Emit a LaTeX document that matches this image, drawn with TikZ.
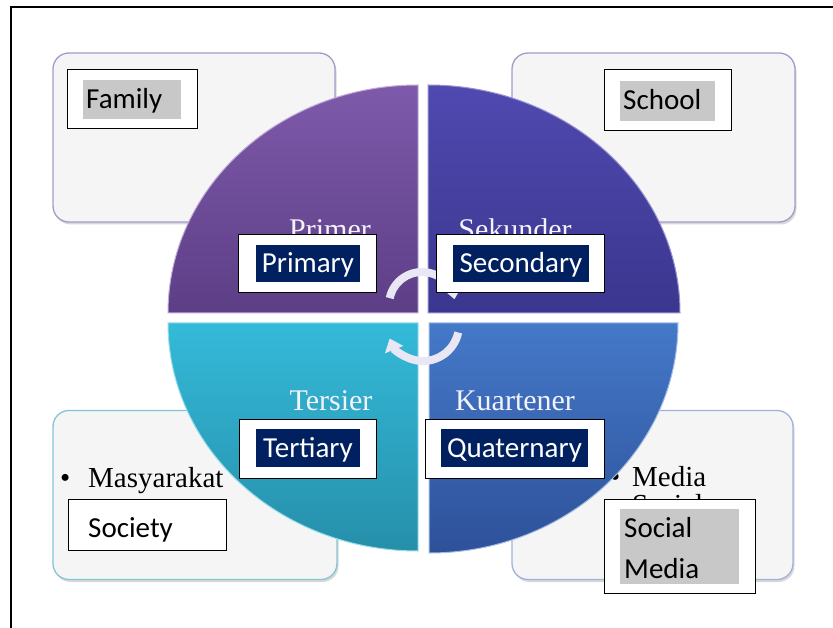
\documentclass[tikz,border=0pt]{standalone}
\usepackage{fontspec}
\setmainfont{Liberation Serif}
\newfontfamily\calfont{Carlito}
\usetikzlibrary{shadows,arrows.meta}
\definecolor{boxfill}{HTML}{F5F5F6}
\definecolor{tlline}{HTML}{A29CCB}
\definecolor{blline}{HTML}{86C4D3}
\definecolor{brline}{HTML}{9FB2DE}
\definecolor{navyc}{HTML}{002060}
\definecolor{grayc}{HTML}{C8C8C8}
\definecolor{tltop}{HTML}{7F5AAB}
\definecolor{tlbot}{HTML}{5C3E86}
\definecolor{trtop}{HTML}{5049B0}
\definecolor{trbot}{HTML}{3B368E}
\definecolor{bltop}{HTML}{34BAD9}
\definecolor{blbot}{HTML}{268FAA}
\definecolor{brtop}{HTML}{4479C9}
\definecolor{brbot}{HTML}{2E5199}
\definecolor{arcc}{HTML}{E9E7F3}
\definecolor{quadtext}{HTML}{F4F2FA}
\tikzset{
  x=1pt, y=-1pt,
  bgbox/.style={rounded corners=16pt, fill=boxfill, line width=1.3pt, inner sep=0pt,
    drop shadow={shadow xshift=1.5pt, shadow yshift=-2.5pt, opacity=0.3}},
  whitebox/.style={draw=black, line width=1pt, fill=white, inner sep=0pt},
  navybox/.style={fill=navyc, text=white, inner sep=0pt, text height=21.5pt, text depth=3pt,
    font=\calfont\fontsize{29}{34}\selectfont},
  graybox/.style={fill=grayc, inner sep=0pt},
  entext/.style={inner sep=0pt, anchor=base west, font=\calfont\fontsize{29}{34}\selectfont},
  idtext/.style={inner sep=0pt, anchor=base west, font=\fontsize{29}{33}\selectfont},
  quadlabel/.style={inner sep=0pt, anchor=base, text=quadtext, font=\fontsize{30}{33}\selectfont},
  cyclearc/.style={draw=arcc, line width=8pt, -{Triangle[width=19pt,length=12pt]}},
}
\begin{document}
\begin{tikzpicture}
\useasboundingbox (0,0) rectangle (833,628);
\fill[white] (0,0) rectangle (833,628);
% outer frame
\draw[line width=2pt] (11,628) -- (11,7) -- (833,7);
% background boxes
\node[bgbox, draw=tlline, minimum width=282pt, minimum height=169pt] (bgtl) at (194,137.5) {};
\node[bgbox, draw=tlline, minimum width=283pt, minimum height=169pt] (bgtr) at (653.5,137.5) {};
\node[bgbox, draw=blline, minimum width=284pt, minimum height=169pt] (bgbl) at (195,495) {};
\node[bgbox, draw=brline, minimum width=281pt, minimum height=169pt] (bgbr) at (652.5,495) {};
% bullet texts
\node[idtext] (bul1) at (60,487) {\textbullet};
\node[idtext] (masy) at (88,487) {Masyarakat};
\node[idtext] (bul2) at (610,486) {\textbullet};
\node[idtext] (media) at (632,486) {Media};
\node[idtext] (sosial) at (632,514) {Sosial};
% quadrants
\shade[top color=tltop, bottom color=tlbot, draw=tltop!50!white, line width=1pt]
  (418,313) -- (168,313) arc[start angle=180, end angle=270, x radius=250, y radius=228] -- cycle;
\shade[top color=trtop, bottom color=trbot, draw=trtop!60!white, line width=1pt]
  (428,313) -- (428,85) arc[start angle=270, end angle=360, x radius=252, y radius=228] -- cycle;
\shade[top color=bltop, bottom color=blbot, draw=bltop!50!white, line width=1pt]
  (418,323) -- (418,551) arc[start angle=90, end angle=180, x radius=250, y radius=228] -- cycle;
\shade[top color=brtop, bottom color=brbot, draw=brtop!50!white, line width=1pt]
  (429,323) -- (678,323) arc[start angle=0, end angle=90, x radius=249, y radius=230] -- cycle;
% quadrant labels
\node[quadlabel] (primer) at (330,240) {Primer};
\node[quadlabel] (sekunder) at (515,240) {Sekunder};
\node[quadlabel] (tersier) at (331,410) {Tersier};
\node[quadlabel] (kuart) at (515,410) {Kuartener};
% cycle arrows
\coordinate (cu) at (422,305);
\coordinate (cl) at (423,325);
\draw[cyclearc] ([shift={(192:33)}]cu) arc[start angle=192, end angle=350, radius=33];
\draw[cyclearc] ([shift={(12:36)}]cl) arc[start angle=12, end angle=158, radius=36];
% English labels
\node[whitebox, minimum width=130pt, minimum height=59pt] (famb) at (132,99.5) {};
\node[graybox, minimum width=98pt, minimum height=39pt] (famg) at (132,99.5) {};
\node[entext] (famt) at (86,108.5) {Family};
\node[whitebox, minimum width=127pt, minimum height=61pt] (schb) at (667.5,100.5) {};
\node[graybox, minimum width=95pt, minimum height=40pt] (schg) at (667.5,101) {};
\node[entext] (scht) at (623,110) {School};
\node[whitebox, minimum width=138pt, minimum height=58pt] (primb) at (307,264) {};
\node[navybox, minimum width=104pt, minimum height=37pt] (primt) at (308,263.5) {Primary};
\node[whitebox, minimum width=168pt, minimum height=58pt] (secb) at (520,264) {};
\node[navybox, minimum width=136pt, minimum height=37pt] (sect) at (521,263.5) {Secondary};
\node[whitebox, minimum width=137pt, minimum height=59pt] (terb) at (307.5,448.5) {};
\node[navybox, minimum width=104pt, minimum height=38pt] (tert) at (308,448) {Tertiary};
\node[whitebox, minimum width=179pt, minimum height=59pt] (quab) at (514.5,448.5) {};
\node[navybox, minimum width=147pt, minimum height=38pt] (quat) at (514.5,448) {Quaternary};
\node[whitebox, minimum width=158pt, minimum height=51pt] (socb) at (147,524.5) {};
\node[entext] (soct) at (88,537) {Society};
\node[whitebox, minimum width=151pt, minimum height=94pt] (smb) at (679.5,546) {};
\node[graybox, minimum width=119pt, minimum height=75pt] (smg) at (679.5,546.5) {};
\node[entext] (smt1) at (624,537) {Social};
\node[entext] (smt2) at (624,578) {Media};
\end{tikzpicture}
\end{document}
